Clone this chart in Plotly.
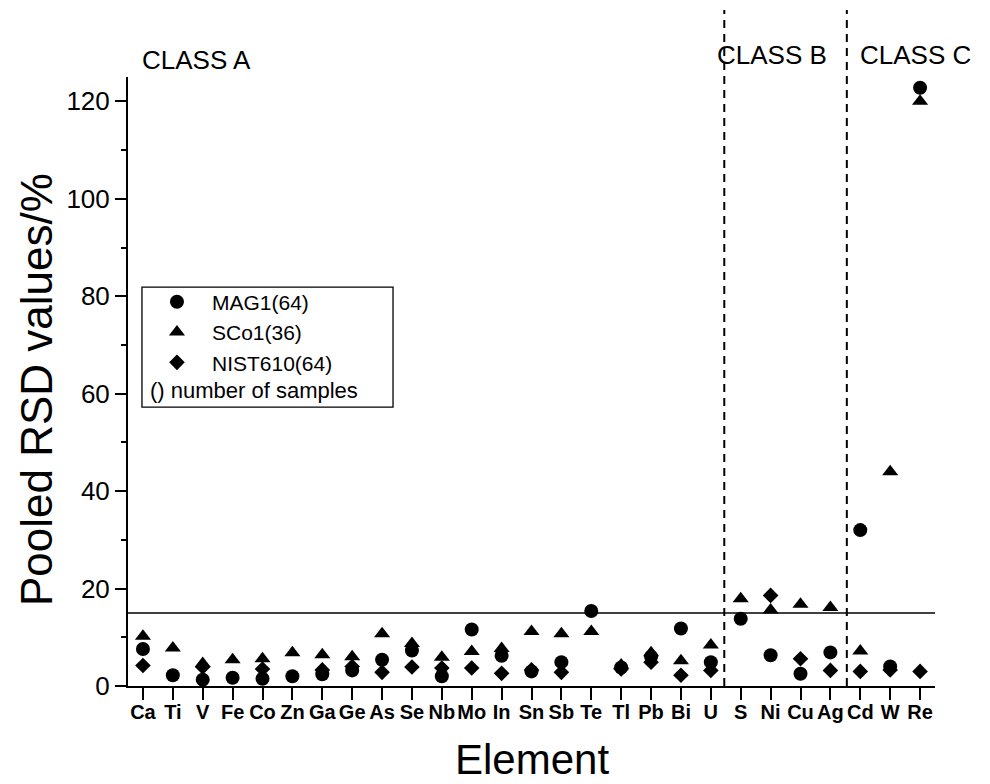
import plotly.graph_objects as go

# Elements on the x axis
elements = ["Ca", "Ti", "V", "Fe", "Co", "Zn", "Ga", "Ge", "As", "Se", "Nb", "Mo",
            "In", "Sn", "Sb", "Te", "Tl", "Pb", "Bi", "U", "S", "Ni", "Cu", "Ag",
            "Cd", "W", "Re"]

# Pooled RSD values (%) per reference material
mag1 = [7.6, 2.2, 1.3, 1.7, 1.5, 2.0, 2.4, 3.2, 5.4, 7.3, 2.0, 11.6,
        6.2, 3.0, 4.9, 15.4, 3.8, 6.0, 11.8, 4.9, 13.8, 6.3, 2.5, 6.9,
        32.0, 4.0, 122.8]
sco1 = [10.2, 7.8, 4.6, 5.4, 5.6, 6.8, 6.4, 6.0, 10.7, 8.7, 5.9, 7.1,
        7.7, 11.2, 10.7, 11.2, 4.3, 6.8, 5.2, 8.4, 17.9, 15.6, 16.8, 16.1,
        7.2, 44.0, 120.0]
nist610 = [4.2, None, 3.9, None, 3.5, None, 3.3, 4.0, 2.8, 3.9, 3.7, 3.7,
           2.6, 3.3, 2.8, None, 3.5, 4.9, 2.2, 3.2, None, 18.6, 5.6, 3.2,
           3.0, 3.3, 3.0]

series_names = ["MAG1(64)", "SCo1(36)", "NIST610(64)"]
note_text = "() number of samples"
class_labels = ["CLASS A", "CLASS B", "CLASS C"]
class_bounds = [19.45, 23.55]   # dashed separators between element classes
threshold = 15

FONT = "Liberation Sans, Arial, sans-serif"

fig = go.Figure()
for vals, name, sym, size in [(mag1, series_names[0], "circle", 14),
                              (sco1, series_names[1], "triangle-up", 14),
                              (nist610, series_names[2], "diamond", 12)]:
    fig.add_trace(go.Scatter(
        x=elements, y=vals, mode="markers", name=name,
        marker=dict(symbol=sym, size=size, color="black", line=dict(width=0)),
    ))

shapes = [
    # horizontal threshold line
    dict(type="line", xref="x domain", yref="y", x0=0, x1=1, y0=threshold, y1=threshold,
         line=dict(color="black", width=1.5)),
    # legend frame
    dict(type="rect", xref="paper", yref="paper", x0=0.0173, x1=0.3284, y0=0.458, y1=0.655,
         line=dict(color="black", width=1.3), fillcolor="rgba(0,0,0,0)"),
]
for xb in class_bounds:
    shapes.append(dict(type="line", xref="x", yref="paper", x0=xb, x1=xb, y0=0, y1=1.11,
                       line=dict(color="black", width=2, dash="8px,6px")))

annotations = [
    dict(text=class_labels[0], xref="paper", yref="paper", x=0.0149, y=1.028,
         xanchor="left", yanchor="middle", showarrow=False,
         font=dict(family=FONT, size=26, color="black")),
    dict(text=class_labels[1], xref="paper", yref="paper", x=0.7274, y=1.036,
         xanchor="left", yanchor="middle", showarrow=False,
         font=dict(family=FONT, size=26, color="black")),
    dict(text=class_labels[2], xref="paper", yref="paper", x=0.9049, y=1.036,
         xanchor="left", yanchor="middle", showarrow=False,
         font=dict(family=FONT, size=26, color="black")),
    dict(text=note_text, xref="paper", yref="paper", x=0.0248, y=0.485,
         xanchor="left", yanchor="middle", showarrow=False,
         font=dict(family=FONT, size=22, color="black")),
    # axis titles
    dict(text="Element", xref="paper", yref="paper", x=0.5, y=-0.1215,
         xanchor="center", yanchor="middle", showarrow=False,
         font=dict(family=FONT, size=42, color="black")),
    dict(text="Pooled RSD values/%", xref="paper", yref="paper", x=-0.146, y=0.487,
         xanchor="left", yanchor="middle", showarrow=False, textangle=-90,
         font=dict(family=FONT, size=44, color="black")),
]

fig.update_layout(
    width=990, height=784,
    margin=dict(l=128, r=55, t=77, b=98),
    paper_bgcolor="white", plot_bgcolor="white",
    font=dict(family=FONT, color="black"),
    showlegend=True,
    legend=dict(x=0.0173, y=0.664, xanchor="left", yanchor="top",
                bgcolor="rgba(0,0,0,0)", borderwidth=0, itemwidth=60,
                tracegroupgap=0, font=dict(family=FONT, size=21, color="black")),
    shapes=shapes,
    annotations=annotations,
    xaxis=dict(
        type="category", range=[-0.5, 26.5],
        showline=True, linecolor="black", linewidth=2, mirror=False,
        ticks="outside", ticklen=12, tickwidth=2, tickcolor="black",
        ticklabelstandoff=-5,
        showgrid=False, zeroline=False,
        tickfont=dict(family=FONT, size=20, color="black", weight="bold"),
    ),
    yaxis=dict(
        range=[0, 125], tick0=0, dtick=20,
        showline=True, linecolor="black", linewidth=2, mirror=False,
        ticks="outside", ticklen=11, tickwidth=2, tickcolor="black",
        minor=dict(dtick=10, ticks="outside", ticklen=5, tickwidth=2, tickcolor="black"),
        showgrid=False, zeroline=False,
        tickfont=dict(family=FONT, size=26, color="black"),
    ),
)

fig.write_html("out.html")
